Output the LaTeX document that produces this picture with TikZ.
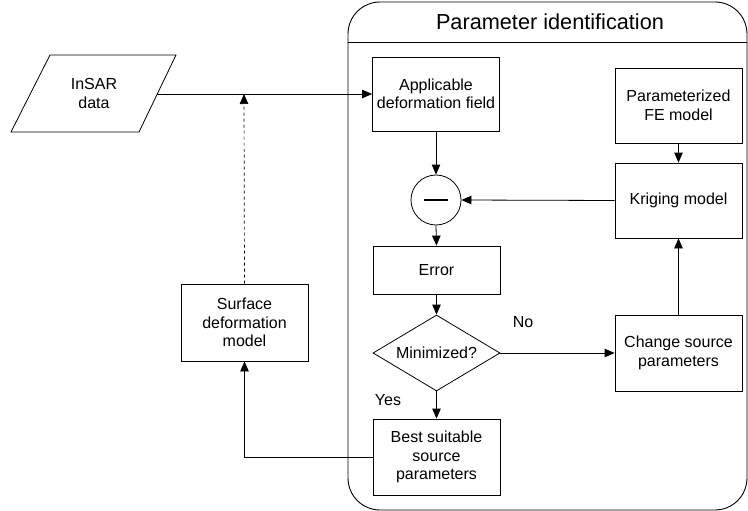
\documentclass[tikz,border=0pt]{standalone}
\usepackage{fontspec}
\setmainfont{Liberation Sans}
\usetikzlibrary{arrows.meta,shapes.geometric}
\begin{document}
\begin{tikzpicture}[x=1pt,y=-1pt,
  every node/.style={font=\fontsize{16}{18.5}\selectfont, align=center},
  box/.style={draw, line width=0.8pt, minimum width=127pt, inner sep=0pt},
  link/.style={line width=0.8pt, -{Triangle[length=10pt,width=8.5pt]}}]
\useasboundingbox (0,0) rectangle (748,511);

% container with title band
\draw[line width=0.9pt, rounded corners=32pt] (348,510) -- (348,2) -- (747,2) -- (747,510) -- cycle;
\draw[line width=0.9pt] (348,42) -- (747,42);
\node[font=\fontsize{21.7}{25}\selectfont] (title) at (550,22) {Parameter identification};

% boxes
\node[box, minimum height=74pt] (adf) at (436,94) {Applicable\\deformation field};
\node[box, minimum height=75pt] (fem) at (678.5,105.5) {Parameterized\\FE model};
\node[box, minimum height=75pt] (krig) at (678.5,200.5) {Kriging model};
\node[draw, circle, line width=0.8pt, minimum size=50pt, inner sep=0pt] (minus) at (436,200) {};
\draw[line width=2pt] (424,200) -- (448,200);
\node[box, minimum height=48pt] (err) at (436.5,270) {Error};
\node[draw, diamond, line width=0.8pt, aspect=1.67, minimum width=127pt, minimum height=76pt, inner sep=0pt] (mini) at (436.5,353) {Minimized?};
\node[box, minimum height=76pt] (chg) at (678.5,353) {Change source\\parameters};
\node[box, minimum height=76pt] (best) at (436.5,457) {Best suitable\\source\\parameters};
\node[box, minimum height=77pt] (sdm) at (244.5,322.5) {Surface\\deformation\\model};

% input data (parallelogram)
\draw[line width=0.8pt] (50,55) -- (176,55) -- (139,132) -- (11,132) -- cycle;
\node (insar) at (94,93.5) {InSAR\\data};
\coordinate (insarR) at (157.3,94);

% labels
\node (no) at (523,322) {No};
\node (yes) at (388,400) {Yes};

% connectors
\coordinate (j) at (244,94);
\draw[link] (insarR) -- (adf.west);
\draw[link] (adf.south) -- (minus.north);
\draw[link] (minus.south) -- (err.north);
\draw[link] (err.south) -- (mini.north);
\draw[link] (mini.south) -- (best.north);
\draw[link] (mini.east) -- (chg.west);
\draw[link] (chg.north) -- (krig.south);
\draw[link] (fem.south) -- (krig.north);
\draw[link] (krig.west) -- (minus.east);
\draw[link] (best.west) -| (sdm.south);
\draw[link, dashed, line width=0.7pt] (sdm.north) -- (j);
\end{tikzpicture}
\end{document}
